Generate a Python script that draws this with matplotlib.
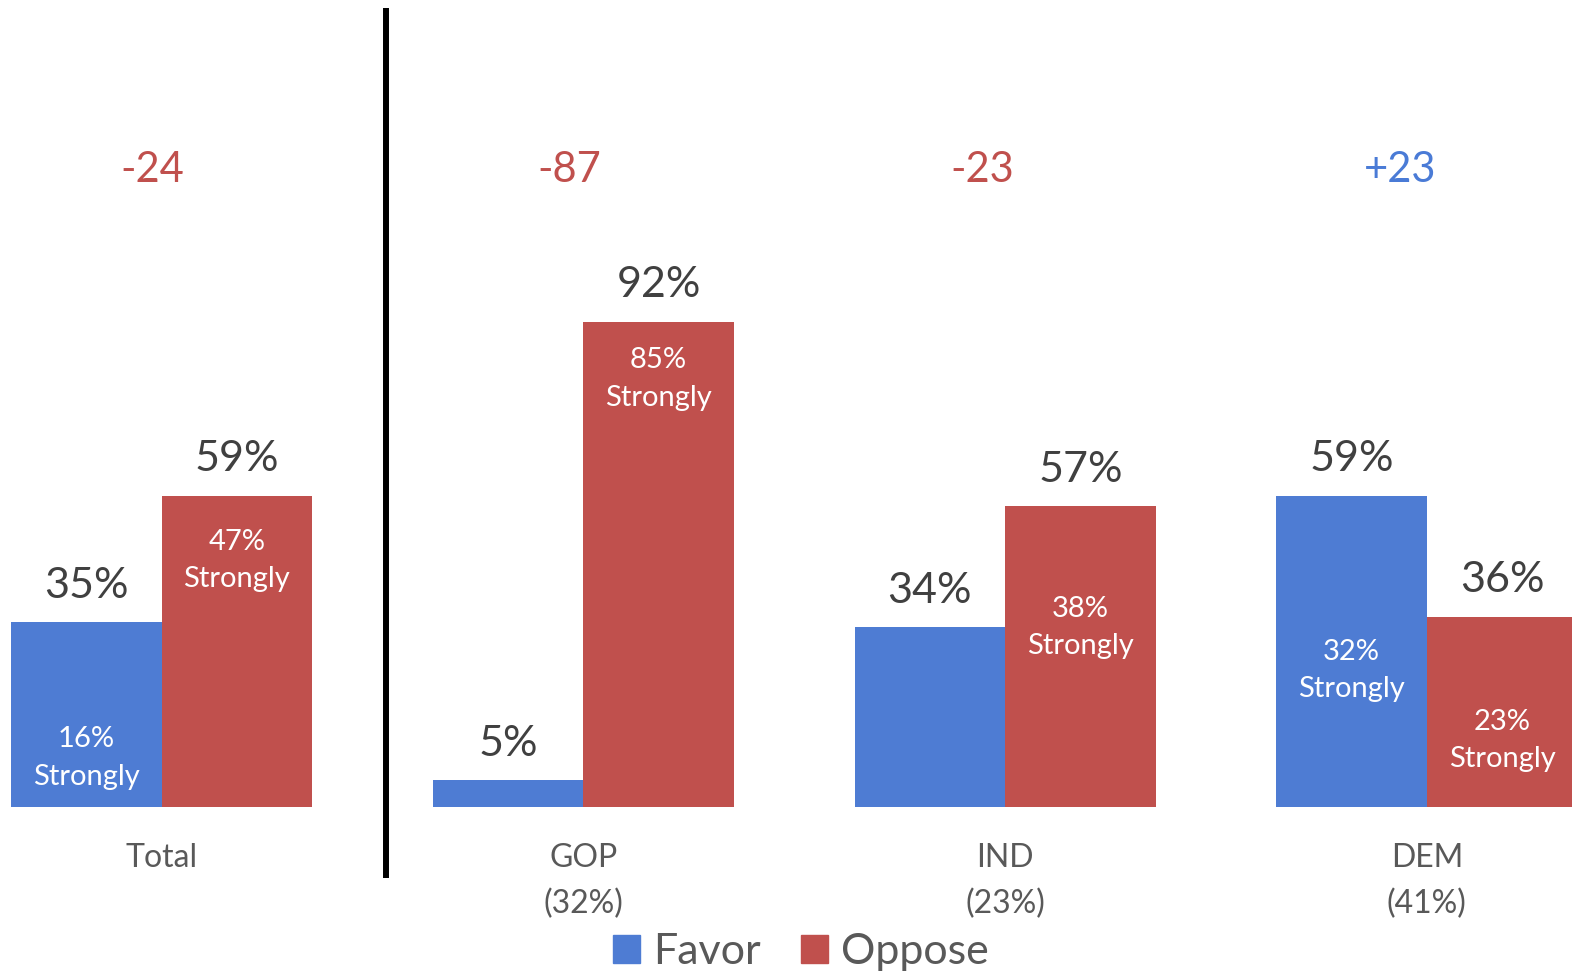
import matplotlib.pyplot as plt
from matplotlib.patches import Patch

plt.rcParams['font.family'] = ['Lato', 'DejaVu Sans']

# dados
grupos = ['Total', 'GOP', 'IND', 'DEM']
peso = [None, '(32%)', '(23%)', '(41%)']
favor = [35, 5, 34, 59]
oppose = [59, 92, 57, 36]
favor_forte = [16, None, None, 32]
oppose_forte = [47, 85, 38, 23]
saldo = ['-24', '-87', '-23', '+23']

# layout: posicao vertical dos rotulos internos e deslocamento do saldo
y_favor_forte = [9.2, None, None, 25.8]
y_oppose_forte = [46.7, 81.2, 34.0, 12.5]
dx_saldo = [-0.022, -0.033, -0.054, -0.063]

AZUL = '#4E7CD3'
VERMELHO = '#C0504D'
AZUL_TXT = '#4A7BD6'
CINZA_ESC = '#404040'
CINZA = '#595959'

fig = plt.figure(figsize=(15.72, 9.73), dpi=100)
ax = fig.add_axes([0, 0, 1, 1])
ax.axis('off')
ax.set_xlim(-0.383, 3.344)
ax.set_ylim(-31.6, 153.1)

w = 0.3568
x = list(range(len(grupos)))
xf = [i - w / 2 for i in x]
xo = [i + w / 2 for i in x]

ax.bar(xf, favor, width=w, color=AZUL)
ax.bar(xo, oppose, width=w, color=VERMELHO)

# valores acima das barras
for xi, v in zip(xf, favor):
    ax.annotate(f'{v}%', (xi, v), xytext=(0, 26.3), textcoords='offset points',
                ha='center', va='center', fontsize=31, color=CINZA_ESC)
for xi, v in zip(xo, oppose):
    ax.annotate(f'{v}%', (xi, v), xytext=(0, 26.3), textcoords='offset points',
                ha='center', va='center', fontsize=31, color=CINZA_ESC)

# "Strongly" dentro das barras
for xi, v, yy in zip(xf, favor_forte, y_favor_forte):
    if v is not None:
        ax.text(xi, yy, f'{v}%\nStrongly', ha='center', va='center',
                fontsize=21, color='white', linespacing=1.55)
for xi, v, yy in zip(xo, oppose_forte, y_oppose_forte):
    ax.text(xi, yy, f'{v}%\nStrongly', ha='center', va='center',
            fontsize=21, color='white', linespacing=1.55)

# saldo liquido
for xi, s, dx in zip(x, saldo, dx_saldo):
    cor = AZUL_TXT if s.startswith('+') else VERMELHO
    ax.text(xi + dx, 120.9, s, ha='center', va='center', fontsize=30, color=cor)

# rotulos das categorias
for xi, g, p in zip(x, grupos, peso):
    ax.text(xi, -9.7, g, ha='center', va='center', fontsize=23, color=CINZA)
    if p:
        ax.text(xi, -18.5, p, ha='center', va='center', fontsize=23, color=CINZA)

# linha separadora
ax.plot([0.532, 0.532], [-13.6, 151.5], color='black', lw=4.3,
        solid_capstyle='butt', clip_on=False)

# legenda
handles = [Patch(color=AZUL, label='Favor'), Patch(color=VERMELHO, label='Oppose')]
fig.legend(handles=handles, loc='center', bbox_to_anchor=(801 / 1572, 1 - 952 / 973),
           ncol=2, frameon=False, fontsize=31, labelcolor=CINZA,
           handlelength=0.63, handleheight=0.63, handletextpad=0.3, columnspacing=0.93,
           borderpad=0)

plt.savefig('out.png', dpi=100)
